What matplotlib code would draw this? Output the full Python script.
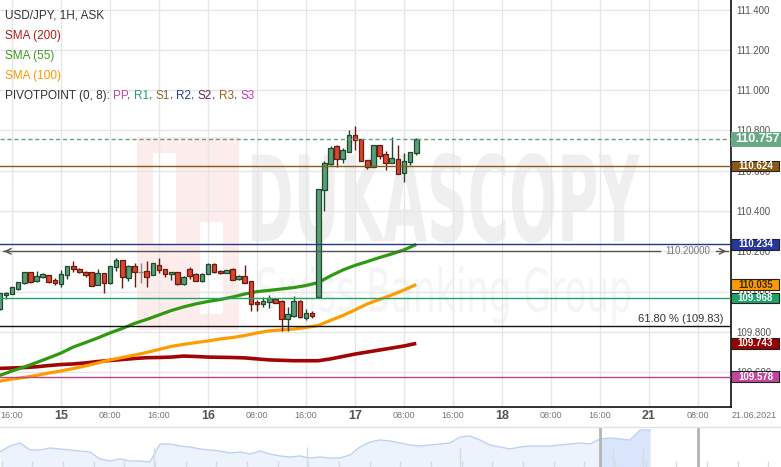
import matplotlib
matplotlib.use("Agg")
import matplotlib.pyplot as plt
import numpy as np
from matplotlib.textpath import TextPath
from matplotlib.patches import PathPatch, Rectangle
from matplotlib.font_manager import FontProperties
from matplotlib.transforms import Affine2D, blended_transform_factory

plt.rcParams['font.family'] = ['Liberation Sans', 'DejaVu Sans']

W, H = 781, 467

# ---------------------------------------------------------------------------
# data: USD/JPY hourly candles, index = hours since 14.06 16:00
# ---------------------------------------------------------------------------
candle_idx = list(range(-2, 67))
opens = [109.912, 109.982, 109.988, 110.011, 110.041, 110.096, 110.051, 110.071, 110.081, 110.056,
         110.039, 110.081, 110.126, 110.114, 110.099, 110.096, 110.034, 110.091, 110.041, 110.121,
         110.157, 110.066, 110.126, 110.097, 110.102, 110.081, 110.132, 110.112, 110.086, 110.096,
         110.036, 110.112, 110.087, 110.053, 110.086, 110.137, 110.102, 110.091, 110.112, 110.061,
         110.077, 110.053, 109.947, 109.937, 109.947, 109.962, 109.953, 109.866, 109.879, 109.953,
         109.871, 109.895, 109.972, 110.503, 110.634, 110.725, 110.658, 110.694, 110.777, 110.756,
         110.653, 110.617, 110.727, 110.683, 110.640, 110.658, 110.588, 110.645, 110.687]
closes = [109.991, 109.995, 110.021, 110.048, 110.096, 110.046, 110.077, 110.087, 110.049, 110.041,
          110.086, 110.126, 110.112, 110.099, 110.081, 110.029, 110.092, 110.041, 110.126, 110.157,
          110.071, 110.129, 110.099, 110.096, 110.074, 110.141, 110.106, 110.086, 110.096, 110.036,
          110.074, 110.077, 110.055, 110.087, 110.137, 110.097, 110.090, 110.105, 110.060, 110.077,
          110.044, 109.939, 109.939, 109.953, 109.967, 109.945, 109.866, 109.889, 109.953, 109.872,
          109.895, 109.879, 110.509, 110.639, 110.713, 110.658, 110.703, 110.777, 110.752, 110.648,
          110.617, 110.727, 110.674, 110.640, 110.662, 110.583, 110.650, 110.691, 110.756]
highs = [109.993, 109.996, 110.023, 110.050, 110.097, 110.097, 110.102, 110.091, 110.082, 110.066,
         110.107, 110.127, 110.152, 110.115, 110.100, 110.097, 110.110, 110.092, 110.127, 110.165,
         110.159, 110.130, 110.141, 110.144, 110.154, 110.142, 110.165, 110.114, 110.097, 110.097,
         110.075, 110.121, 110.090, 110.090, 110.142, 110.142, 110.105, 110.107, 110.115, 110.080,
         110.132, 110.055, 109.958, 109.972, 109.983, 109.963, 109.956, 109.925, 109.978, 109.956,
         109.912, 109.904, 110.511, 110.647, 110.725, 110.727, 110.714, 110.802, 110.822, 110.757,
         110.655, 110.730, 110.730, 110.699, 110.765, 110.727, 110.687, 110.693, 110.761]
lows = [109.911, 109.962, 109.986, 110.010, 110.040, 110.045, 110.050, 110.066, 110.041, 110.033,
        110.024, 110.061, 110.099, 110.091, 110.071, 110.028, 110.033, 109.992, 110.040, 110.104,
        110.016, 110.054, 110.021, 110.041, 110.024, 110.080, 110.091, 110.074, 110.058, 110.035,
        110.035, 110.061, 110.053, 110.048, 110.085, 110.091, 110.087, 110.090, 110.058, 110.060,
        110.043, 109.904, 109.905, 109.925, 109.917, 109.943, 109.806, 109.806, 109.876, 109.871,
        109.859, 109.871, 109.968, 110.401, 110.630, 110.620, 110.640, 110.693, 110.703, 110.646,
        110.607, 110.616, 110.656, 110.603, 110.638, 110.582, 110.545, 110.628, 110.676]

# moving averages, read every second hour
sma_idx = list(range(-2, 67, 2))
sma55 = [109.584, 109.606, 109.626, 109.648, 109.671, 109.695, 109.725, 109.747, 109.770, 109.795,
         109.817, 109.842, 109.862, 109.884, 109.906, 109.924, 109.939, 109.951, 109.961, 109.973,
         109.988, 110.000, 110.006, 110.013, 110.020, 110.030, 110.045, 110.078, 110.107, 110.130,
         110.149, 110.169, 110.187, 110.207, 110.234]
sma100 = [109.556, 109.566, 109.574, 109.584, 109.596, 109.606, 109.618, 109.631, 109.646, 109.661,
          109.673, 109.685, 109.698, 109.713, 109.728, 109.738, 109.747, 109.755, 109.765, 109.772,
          109.782, 109.795, 109.805, 109.810, 109.814, 109.822, 109.832, 109.857, 109.881, 109.909,
          109.939, 109.961, 109.983, 110.008, 110.035]
sma200 = [109.619, 109.621, 109.623, 109.627, 109.633, 109.638, 109.641, 109.646, 109.653, 109.658,
          109.663, 109.668, 109.672, 109.673, 109.675, 109.680, 109.678, 109.675, 109.674, 109.673,
          109.671, 109.666, 109.661, 109.659, 109.657, 109.657, 109.657, 109.666, 109.678, 109.690,
          109.700, 109.710, 109.720, 109.730, 109.743]

last_price = 110.757
pivot_vals = [110.624, 110.234, 109.968, 109.578]
pivot_cols = ['#8a5a17', '#26358f', '#22a36b', '#b8488a']
fib_val = 109.83
fib_label = '61.80 % (109.83)'
hline_val = 110.2
hline_label = '110.20000'

# right-hand price boxes: value, fill, text colour
box_vals = [110.624, 110.234, 110.035, 109.968, 109.743, 109.578]
box_fill = ['#8a5a17', '#27389c', '#ff9900', '#1fa36a', '#9b0000', '#c2479a']
box_text = ['white', 'white', '#3a2a10', 'white', 'white', 'white']

yticks = [109.6, 109.8, 110.0, 110.2, 110.4, 110.6, 110.8, 111.0, 111.2, 111.4]
xtick_pos = [0, 8, 16, 24, 32, 40, 48, 56, 64, 72, 80, 88, 96, 104, 112]
xtick_lab = ['16:00', '15', '08:00', '16:00', '16', '08:00', '16:00', '17', '08:00',
             '16:00', '18', '08:00', '16:00', '21', '08:00']
day_labels = {'15', '16', '17', '18', '21'}
date_label = '21.06.2021'

# navigator (long history) heights
nav_vals = [15, 21, 24, 17, 17, 19, 18, 17, 16, 15, 8, 6, 8, 6, 6, 5, 23, 23, 21, 20,
            18, 17, 16, 14, 15, 13, 16, 13, 11, 10, 11, 9, 10, 9, 9, 12, 20, 25, 27, 26,
            24, 22, 21, 22, 23, 24, 30, 31, 27, 22, 20, 18, 20, 21, 21, 21, 22, 23, 24, 23,
            28, 29, 28, 27, 37, 37]

legend_lines = [('USD/JPY, 1H, ASK', '#333333'), ('SMA (200)', '#b01c1c'),
                ('SMA (55)', '#3a9a1a'), ('SMA (100)', '#ff9900')]
pivot_parts = [('PIVOTPOINT (0, 8):', '#333333'), ('PP', '#c2479a'), (',', '#333333'),
               ('R1', '#1fa36a'), (',', '#333333'), ('S1', '#8a6a2a'), (',', '#333333'),
               ('R2', '#2b3b9c'), (',', '#333333'), ('S2', '#5e2d5e'), (',', '#333333'),
               ('R3', '#a0601a'), (',', '#333333'), ('S3', '#c832c8')]

# ---------------------------------------------------------------------------
fig = plt.figure(figsize=(W / 100, H / 100), dpi=100)
fig.patch.set_facecolor('white')

PX_H = 6.125          # pixels per hour
PX_P = 201.5          # pixels per 1.0 price
ax = fig.add_axes([0, 60 / H, 731 / W, 407 / H])
ax.set_xlim(-12 / PX_H, (731 - 12) / PX_H)
ax.set_ylim(111.4 - (407 - 9.5) / PX_P, 111.4 + 9.5 / PX_P)

for s in ['left', 'top']:
    ax.spines[s].set_visible(False)
for s in ['right', 'bottom']:
    ax.spines[s].set_color('#111111')
    ax.spines[s].set_linewidth(1.2)

ax.set_xticks(xtick_pos)
ax.set_xticklabels([])
ax.set_yticks(yticks)
ax.yaxis.tick_right()
ax.yaxis.set_major_formatter(matplotlib.ticker.FormatStrFormatter('%.3f'))
ax.tick_params(axis='x', length=0)
ax.tick_params(axis='y', length=0, pad=4, labelsize=7, labelcolor='#555555')
ax.grid(True, color='#e6e6e6', lw=1)
ax.set_axisbelow(True)


# watermark ------------------------------------------------------------------
def fitted_text(s, box, color, weight):
    tp = TextPath((0, 0), s, size=100, prop=FontProperties(family='DejaVu Sans', weight=weight))
    ext = tp.get_extents()
    x0, y0, x1, y1 = box
    sx = (x1 - x0) / W / ext.width
    sy = (y1 - y0) / H / ext.height
    tr = (Affine2D().translate(-ext.x0, -ext.y0).scale(sx, sy)
          .translate(x0 / W, 1 - y1 / H) + fig.transFigure)
    ax.add_patch(PathPatch(tp, transform=tr, facecolor=color, lw=0, zorder=0.2))


def px_rect(x0, y0, x1, y1, color, z=0.2):
    ax.add_patch(Rectangle((x0 / W, 1 - y1 / H), (x1 - x0) / W, (y1 - y0) / H,
                           transform=fig.transFigure, facecolor=color, lw=0, zorder=z))


fitted_text('DUKASCOPY', (252, 153, 640, 243), '#efefef', 'bold')
fitted_text('Swiss Banking Group', (258, 266, 630, 324), '#f5f5f5', 'normal')
px_rect(137, 137, 239, 330, '#fcecec')
px_rect(153, 153, 176, 245, 'white', 0.21)
px_rect(200, 222, 223, 314, 'white', 0.21)

# moving averages -------------------------------------------------------------
ax.plot(sma_idx, sma200, color='#a00606', lw=2.6, zorder=2, solid_capstyle='butt')
ax.plot(sma_idx, sma100, color='#ff9c00', lw=2.3, zorder=2, solid_capstyle='butt')
ax.plot(sma_idx, sma55, color='#2f9a10', lw=2.3, zorder=2, solid_capstyle='butt')

# candles ---------------------------------------------------------------------
for k, o, h, l, c in zip(candle_idx, opens, highs, lows, closes):
    if abs(c - o) < 0.002:
        ax.vlines(k, l, h, color='#8a8a8a', lw=1, zorder=3)
        ax.hlines(c, k - 0.4, k + 0.4, color='#8a8a8a', lw=1, zorder=3)
        continue
    if c > o:
        fc, ec = '#5c9c78', '#1d4a2b'
    else:
        fc, ec = '#d9452f', '#6a1a10'
    ax.vlines(k, l, h, color=ec, lw=1, zorder=3)
    ax.bar(k, abs(c - o), bottom=min(o, c), width=0.75, color=fc, edgecolor=ec,
           linewidth=0.9, zorder=3.5)

# level lines -------------------------------------------------------------------
ax.axhline(last_price, color='#5fa57d', lw=1, ls=(0, (3, 2)), zorder=4)
for v, col in zip(pivot_vals, pivot_cols):
    ax.axhline(v, color=col, lw=1, zorder=4)
ax.axhline(fib_val, color='#111111', lw=1, zorder=4)
ax.text((723 - 12) / PX_H, fib_val + 2 / PX_P, fib_label, ha='right', va='bottom',
        fontsize=8, color='#333333', zorder=5)

xl0, xl1 = ax.get_xlim()
gap0, gap1 = (660 - 12) / PX_H, (716 - 12) / PX_H
ax.plot([xl0 + 0.5, gap0], [hline_val, hline_val], color='#555555', lw=1, zorder=4)
ax.plot([gap1, xl1 - 0.5], [hline_val, hline_val], color='#555555', lw=1, zorder=4)
ax.annotate('', xy=(xl0 + 0.2, hline_val), xytext=(xl0 + 2, hline_val),
            arrowprops=dict(arrowstyle='->', color='#555555', lw=1), zorder=4)
ax.annotate('', xy=(xl1 - 0.3, hline_val), xytext=(xl1 - 2, hline_val),
            arrowprops=dict(arrowstyle='->', color='#555555', lw=1), zorder=4)
ax.text((gap0 + gap1) / 2, hline_val, hline_label, ha='center', va='center',
        fontsize=7, color='#777777', zorder=5)

# price boxes on the right axis ------------------------------------------------
bt = blended_transform_factory(fig.transFigure, ax.transData)
ax.add_patch(Rectangle((731 / W, last_price - 7.5 / PX_P), 50 / W, 15 / PX_P,
                       transform=bt, facecolor='#6aa985', lw=0, clip_on=False, zorder=6))
ax.text(757 / W, last_price, f'{last_price:.3f}', transform=bt, ha='center', va='center',
        fontsize=9, fontweight='bold', color='white', clip_on=False, zorder=7)
for v, fc, tc in zip(box_vals, box_fill, box_text):
    ax.add_patch(Rectangle((731 / W, v - 5.3 / PX_P), 48 / W, 10.6 / PX_P, transform=bt,
                           facecolor=fc, edgecolor='#222222', lw=0.8, clip_on=False, zorder=6))
    ax.text(755.5 / W, v, f'{v:.3f}', transform=bt, ha='center', va='center',
            fontsize=7, fontweight='bold', color=tc, clip_on=False, zorder=7)

# time labels -------------------------------------------------------------------
xt = ax.get_xaxis_transform()
for p, lab in zip(xtick_pos, xtick_lab):
    if lab in day_labels:
        ax.text(p, -9 / 407, lab, transform=xt, ha='center', va='center', fontsize=9,
                fontweight='bold', color='#555555', clip_on=False)
    else:
        ax.text(p, -9 / 407, lab, transform=xt, ha='center', va='center', fontsize=6.5,
                color='#777777', clip_on=False)
fig.text(754 / W, 1 - 416 / H, date_label, ha='center', va='center', fontsize=6.5, color='#777777')
fig.add_artist(plt.Line2D([0, 1], [1 - 427 / H, 1 - 427 / H], color='#e3e3e3', lw=1))

# legend text -------------------------------------------------------------------
for i, (s, col) in enumerate(legend_lines):
    fig.text(5 / W, 1 - (16 + 20 * i) / H, s, color=col, fontsize=8.5, va='center', ha='left')

fig.canvas.draw()
rend = fig.canvas.get_renderer()


def ink_width(s):
    t = fig.text(0, 0, s, fontsize=8.5)
    w = t.get_window_extent(renderer=rend).width
    t.remove()
    return w


full = ''
for s, col in pivot_parts:
    if full and s != ',':
        full += ' '
    full += s
    start = 5 + ink_width(full) - ink_width(s)
    fig.text(start / W, 1 - 96 / H, s, color=col, fontsize=8.5, va='center', ha='left')

# navigator -------------------------------------------------------------------
nav = fig.add_axes([0, 0, 1, 40 / H])
nav.set_xlim(0, W / 10)
nav.set_ylim(0, 40)
nav.axis('off')
nx = np.arange(len(nav_vals))
nv = np.array(nav_vals)
nav.fill_between(nx, 0, nv, color='#edf3fd', lw=0)
nav.fill_between(nx, 0, nv, where=nx >= 60, color='#d8e5fb', lw=0)
nav.plot(nx, nv, color='#bcd2f4', lw=1)
nav.vlines(np.arange(0.17, W / 10, 3.066), 0, 6, color='#d7dbe2', lw=1)
nav.vlines([15.43, 30.73, 46.0, 61.27, 64.33], 0, 20, color='#d7dbe2', lw=1)
nav.vlines([60.0, 69.8], 0, 40, color='#b4b4b4', lw=2)

fig.savefig('out.png', dpi=100)
